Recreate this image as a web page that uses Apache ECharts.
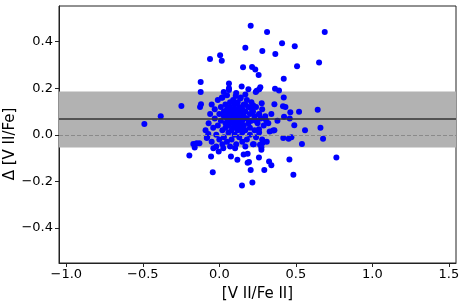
<!DOCTYPE html>
<html><head><meta charset="utf-8">
<script src="https://cdn.jsdelivr.net/npm/echarts@6/dist/echarts.min.js"></script>
<style>html,body{margin:0;padding:0;background:#fff}#c{width:464px;height:303px}</style>
</head><body><div id="c"></div>
<script>
// Scatter points: [V II/Fe II] (x) and Δ [V II/Fe] (y)
const xVals = [
0.205,0.312,0.689,0.41,0.493,0.170,0.281,0.366,0.005,-0.061,0.016,0.652,0.508,0.155,0.214,0.235,0.257,0.421,-0.122,0.063,
0.146,0.063,0.063,0.190,0.268,0.261,0.244,0.238,0.364,0.39,-0.122,0.029,0.016,0.107,0.137,0.17,
-0.49,-0.383,-0.248,-0.126,-0.12,-0.196,-0.161,-0.148,-0.13,-0.054,-0.043,-0.004,0.076,0.118,0.159,0.185,0.185,0.205,0.259,0.294,
0.325,0.34,0.458,0.484,0.765,0.54,0.678,0.661,0.56,0.643,0.521,0.464,0.46,0.49,0.418,0.453,0.471,0.421,0.36,0.416,0.432,0.423,
0.329,0.351,0.277,0.275,0.275,0.266,0.282,0.225,0.148,0.216,0.259,0.24,0.307,0.297,0.26,0.207,0.222,0.17,
-0.17,-0.082,-0.072,-0.039,0.026,0.103,0.194,
-0.09,-0.08,-0.07,-0.06,-0.05,-0.05,-0.04,-0.03,-0.03,-0.02,-0.02,-0.01,-0.01,0.0,0.0,0.01,0.01,0.02,0.02,0.02,
0.03,0.03,0.03,0.04,0.04,0.04,0.05,0.05,0.05,0.05,0.06,0.06,0.06,0.07,0.07,0.07,0.07,0.08,0.08,0.08,
0.08,0.09,0.09,0.09,0.09,0.1,0.1,0.1,0.1,0.11,0.11,0.11,0.11,0.12,0.12,0.12,0.12,0.13,0.13,0.13,
0.13,0.14,0.14,0.14,0.15,0.15,0.15,0.15,0.16,0.16,0.16,0.17,0.17,0.17,0.18,0.18,0.18,0.19,0.19,0.2,
0.2,0.2,0.21,0.21,0.22,0.22,0.23,0.23,0.24,0.24,0.25,0.26,0.26,0.27,0.28,0.28,0.29,0.3,0.31,0.32,
0.34,0.36,0.38
];
const yVals = [
0.468,0.441,0.441,0.393,0.380,0.374,0.360,0.347,0.342,0.326,0.318,0.310,0.294,0.290,0.291,0.280,0.257,0.241,0.227,0.220,
0.207,0.200,0.192,0.196,0.204,0.196,0.189,0.184,0.198,0.19,0.184,0.184,0.159,0.167,0.156,0.173,
0.047,0.080,0.124,0.120,0.131,-0.089,-0.054,-0.036,-0.036,-0.093,-0.161,-0.071,-0.093,-0.107,-0.084,-0.081,-0.12,-0.151,-0.097,-0.151,
-0.114,-0.13,-0.106,-0.171,-0.097,-0.039,-0.017,0.030,0.02,0.108,0.099,0.097,0.07,0.041,-0.014,-0.017,-0.01,0.16,0.131,0.123,0.119,0.078,
0.014,0.019,0.136,-0.053,-0.064,-0.043,-0.035,-0.04,-0.217,-0.204,0.024,0.06,0.06,0.071,0.087,0.114,0.126,0.129,
-0.039,-0.014,0.004,-0.057,-0.057,-0.057,-0.117,
0.02,-0.01,0.05,0.09,0.13,-0.03,0.03,0.07,0.11,-0.05,0.0,0.15,0.04,0.09,-0.02,0.12,0.06,0.02,-0.04,0.16,
0.08,0.1,-0.01,0.05,0.13,0.03,0.07,-0.03,0.17,0.11,0.01,0.09,0.04,0.14,0.06,-0.05,0.12,0.02,0.08,0.1,
-0.02,0.05,0.15,0.03,0.07,0.11,0.0,0.09,0.13,0.04,0.06,-0.04,0.18,0.08,0.02,0.14,0.1,0.05,-0.01,0.12,
0.07,0.03,0.16,0.09,0.06,-0.03,0.11,0.01,0.08,0.13,0.04,-0.05,0.1,0.02,0.07,0.15,-0.02,0.05,0.12,0.09,
0.0,0.03,0.14,0.06,-0.04,0.1,0.02,0.08,0.12,-0.01,0.05,0.09,0.01,0.07,-0.02,0.11,0.04,0.08,-0.03,0.05,
0.09,0.02,0.06
];
// Reference lines / band
const meanValue = 0.066;
const zeroValue = 0.0;
const bandLow = -0.054;
const bandHigh = 0.186;
// Ticks
const xTicks = [-1.0,-0.5,0.0,0.5,1.0,1.5];
const yTicks = [-0.4,-0.2,0.0,0.2,0.4];
const xTitle = '[V II/Fe II]';
const yTitle = 'Δ [V II/Fe]';

const points = xVals.map((x,i)=>[x,yVals[i]]);
const fmt = v => { const s = Math.abs(v).toFixed(1); return (v < -1e-9 ? '\u2212' : '') + s; };
const FONT = 'DejaVu Sans';
const chart = echarts.init(document.getElementById('c'), null, {renderer:'canvas'});
chart.setOption({
  animation:false,
  grid:{left:59,right:8,top:6,bottom:40,outerBoundsMode:'none',containLabel:false,show:true,borderColor:'#222',borderWidth:1,backgroundColor:'transparent'},
  graphic:[{type:'text',x:10,y:144,rotation:Math.PI/2,
    style:{text:yTitle,font:'15px "DejaVu Sans"',fill:'#000',align:'center',verticalAlign:'middle'}}],
  xAxis:{type:'value',min:-1.048,max:1.547,
    name:xTitle,nameLocation:'middle',nameGap:24,
    nameTextStyle:{fontFamily:FONT,fontSize:15,color:'#000'},
    axisLine:{show:true,onZero:false,lineStyle:{color:'#222',width:1}},
    axisTick:{show:true,length:4,customValues:xTicks,lineStyle:{color:'#222'}},
    axisLabel:{customValues:xTicks,formatter:fmt,fontFamily:FONT,fontSize:13,color:'#000',margin:5},
    splitLine:{show:false}},
  yAxis:{type:'value',min:-0.55,max:0.553,
    axisLine:{show:true,onZero:false,lineStyle:{color:'#222',width:1}},
    axisTick:{show:true,length:4,customValues:yTicks,lineStyle:{color:'#222'}},
    axisLabel:{customValues:yTicks,formatter:fmt,fontFamily:FONT,fontSize:13,color:'#000',margin:6},
    splitLine:{show:false}},
  series:[
    {type:'scatter',data:[],z:1,silent:true,
     markArea:{silent:true,itemStyle:{color:'#b2b2b2'},data:[[{yAxis:bandLow},{yAxis:bandHigh}]]},
     markLine:{silent:true,symbol:'none',label:{show:false},
       data:[
         {yAxis:meanValue,lineStyle:{color:'#333',width:1.5,type:'solid'}},
         {yAxis:zeroValue,lineStyle:{color:'#8a8a8a',width:1,type:[4,2]}}
       ]}},
    {type:'scatter',data:points,z:3,symbol:'circle',symbolSize:6,itemStyle:{color:'#0000ff',opacity:1}}
  ]
});
</script></body></html>
